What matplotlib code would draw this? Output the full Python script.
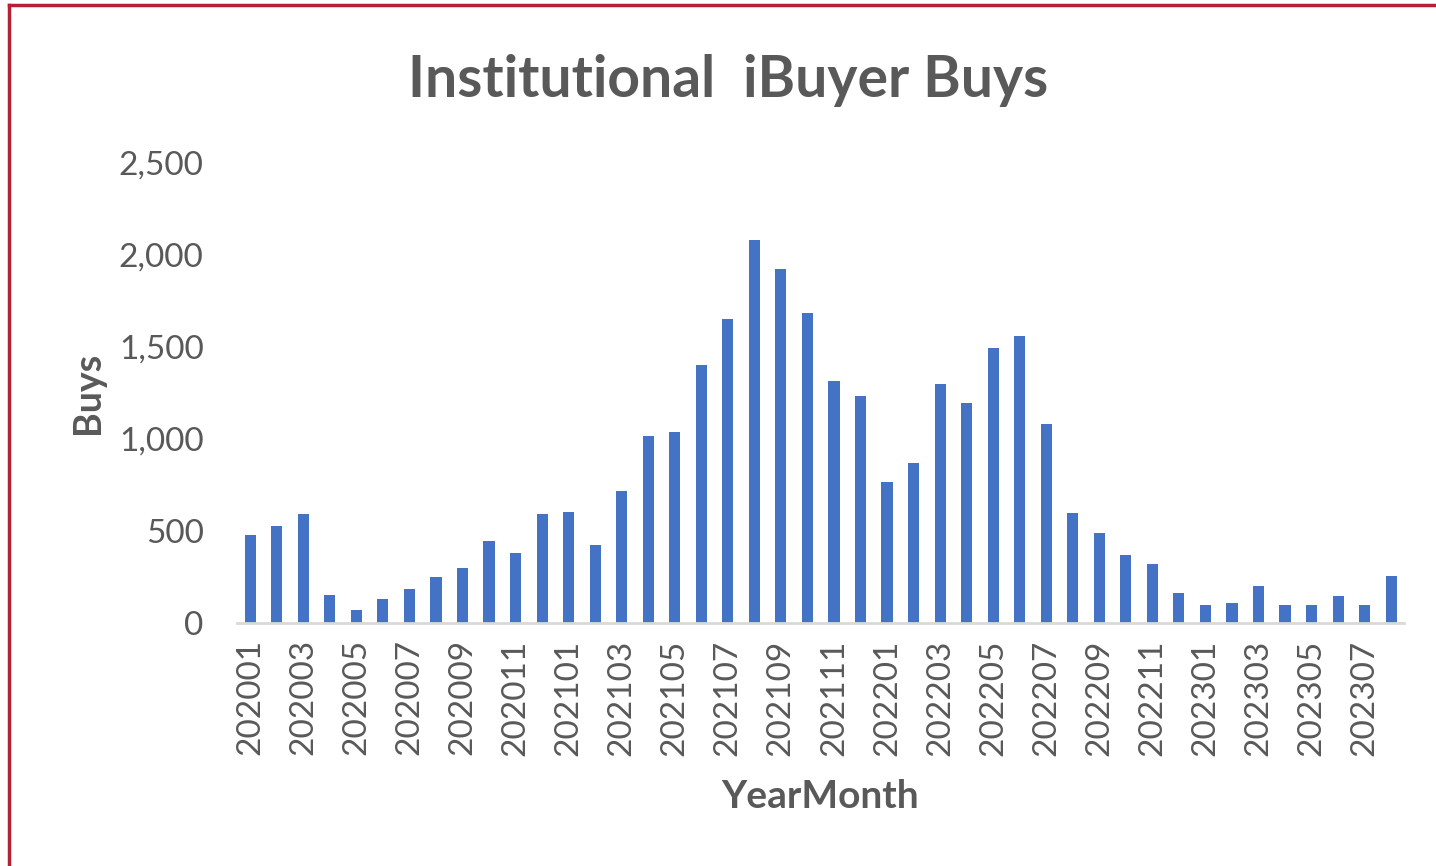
import numpy as np
import matplotlib.pyplot as plt
from matplotlib.lines import Line2D

#-----------------------
# Data
#-----------------------

months = ['202001','202002','202003','202004','202005','202006','202007','202008','202009','202010','202011','202012',
          '202101','202102','202103','202104','202105','202106','202107','202108','202109','202110','202111','202112',
          '202201','202202','202203','202204','202205','202206','202207','202208','202209','202210','202211','202212',
          '202301','202302','202303','202304','202305','202306','202307','202308']
buys = [474, 527, 589, 152, 69, 130, 181, 246, 299, 444, 380, 589,
        600, 424, 715, 1015, 1036, 1400, 1650, 2078, 1920, 1681, 1315, 1234,
        765, 870, 1295, 1192, 1495, 1558, 1078, 598, 485, 370, 319, 163,
        97, 105, 198, 97, 97, 147, 97, 252]

#-----------------------
# Plot
#-----------------------

plt.rcParams['font.family'] = ['Lato', 'DejaVu Sans']
gray = '#595959'
blue = '#4472c4'

fig = plt.figure(figsize=(14.36, 8.66), dpi=100)
ax = fig.add_axes([0.165, 0.281, 0.813, 0.531])

x = np.arange(len(months))
ax.bar(x, buys, width=0.42, color=blue)

ax.set_xlim(-0.5, len(months)-0.5)
ax.set_ylim(0, 2500)
ax.set_yticks(np.arange(0, 2501, 500))
ax.set_yticklabels(['{:,}'.format(v) for v in range(0, 2501, 500)])
ax.set_xticks(x[::2])
ax.set_xticklabels(months[::2], rotation=90)

ax.tick_params(axis='both', length=0, labelsize=24, colors=gray)
ax.tick_params(axis='y', pad=24)
ax.tick_params(axis='x', pad=12)

for s in ['top', 'right', 'left']:
    ax.spines[s].set_visible(False)
ax.spines['bottom'].set_color('#d9d9d9')
ax.spines['bottom'].set_linewidth(2)

fig.text(0.507, 0.907, 'Institutional  iBuyer Buys', ha='center', va='center',
         fontsize=41, fontweight='bold', color=gray)
fig.text(0.061, 0.546, 'Buys', ha='center', va='center', rotation=90,
         fontsize=27, fontweight='bold', color=gray)
fig.text(0.571, 0.080, 'YearMonth', ha='center', va='center',
         fontsize=28, fontweight='bold', color=gray)

### red frame (left and top edges)
fig.add_artist(Line2D([0.0063, 0.0063], [0, 0.994], transform=fig.transFigure, color='#b22234', lw=2.5))
fig.add_artist(Line2D([0.0063, 1.0], [0.994, 0.994], transform=fig.transFigure, color='#b22234', lw=2.5))

plt.savefig('out.png', dpi=100)
